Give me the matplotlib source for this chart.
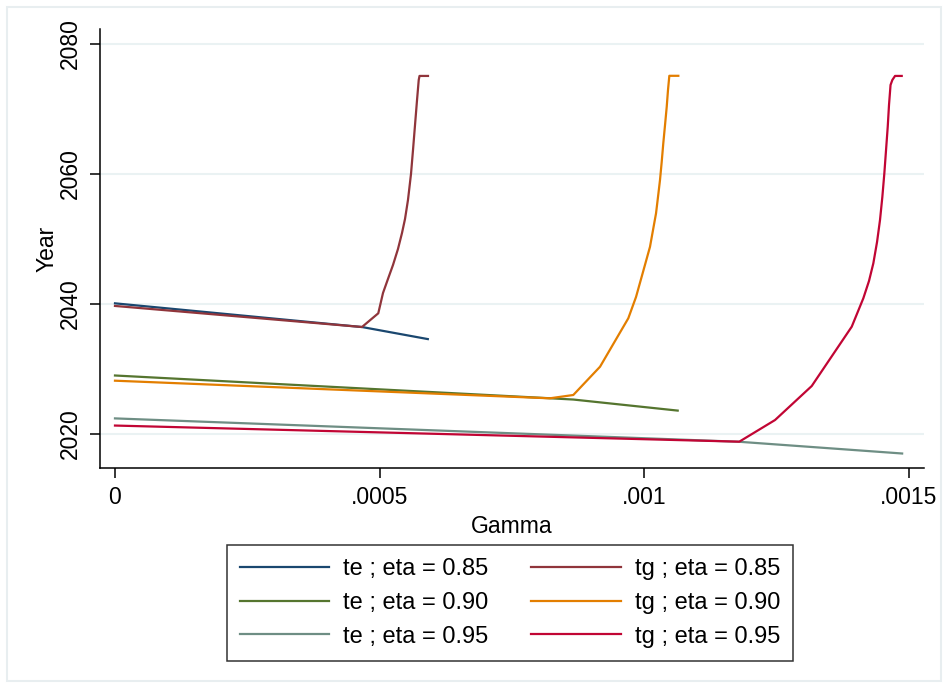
import matplotlib
matplotlib.use("Agg")
import matplotlib.pyplot as plt
from matplotlib.patches import Rectangle

plt.rcParams['font.family'] = ['Liberation Sans', 'DejaVu Sans']

# ---- data ----
te85_g = [0.0, 0.000467, 0.000591]
te85_y = [2040.1, 2036.45, 2034.6]
tg85_g = [0.0, 0.0004666, 0.0004974, 0.0005063, 0.0005157, 0.0005252, 0.0005346,
          0.0005422, 0.0005479, 0.0005535, 0.0005592, 0.0005630, 0.0005668,
          0.0005706, 0.0005738, 0.0005753, 0.0005913]
tg85_y = [2039.7, 2036.46, 2038.57, 2041.69, 2043.85, 2046.0, 2048.46,
          2050.92, 2053.08, 2056.0, 2060.0, 2063.69, 2067.54,
          2071.38, 2074.46, 2075.08, 2075.08]

te90_g = [0.0, 0.000821, 0.000866, 0.001063]
te90_y = [2029.0, 2025.5, 2025.3, 2023.6]
tg90_g = [0.0, 0.0008214, 0.0008658, 0.0009163, 0.0009697, 0.0009843, 0.0009950,
          0.0010032, 0.0010107, 0.0010164, 0.0010221, 0.0010258, 0.0010296,
          0.0010328, 0.0010358, 0.0010391, 0.0010423, 0.0010447, 0.0010472,
          0.0010642]
tg90_y = [2028.2, 2025.49, 2026.0, 2030.35, 2037.8, 2041.08, 2044.2,
          2046.6, 2048.8, 2051.38, 2053.95, 2056.46, 2059.08,
          2061.85, 2064.72, 2067.54, 2070.35, 2072.92, 2075.1,
          2075.1]

te95_g = [0.0, 0.00118, 0.001487]
te95_y = [2022.4, 2018.8, 2017.0]
tg95_g = [0.0, 0.0011794, 0.0012469, 0.0013162, 0.0013918, 0.0014137, 0.0014244,
          0.0014326, 0.0014396, 0.0014452, 0.0014496, 0.0014534, 0.0014566,
          0.0014598, 0.0014622, 0.0014651, 0.0014685, 0.0014736, 0.0014862]
tg95_y = [2021.3, 2018.82, 2022.15, 2027.38, 2036.51, 2040.88, 2043.54,
          2046.26, 2049.54, 2052.92, 2056.46, 2060.11, 2063.69,
          2067.28, 2070.62, 2073.69, 2074.46, 2075.08, 2075.08]

labels = ["te ; eta = 0.85", "tg ; eta = 0.85", "te ; eta = 0.90",
          "tg ; eta = 0.90", "te ; eta = 0.95", "tg ; eta = 0.95"]
colors = ["#1a476f", "#90353b", "#55752f", "#e37e00", "#6e8e84", "#c10534"]

xticks = [0.0, 0.0005, 0.001, 0.0015]
xticklabels = ["0", ".0005", ".001", ".0015"]
yticks = [2020, 2040, 2060, 2080]

# ---- figure ----
W, H = 947, 687
fig = plt.figure(figsize=(W / 100, H / 100), dpi=100)
fig.patch.set_facecolor("white")
fig.patches.append(Rectangle((7 / W, 1 - 681 / H), (941 - 7) / W, (681 - 7) / H,
                             transform=fig.transFigure, fill=False,
                             edgecolor="#e8eef0", linewidth=1.5, zorder=0))

ax = fig.add_axes([100 / W, 1 - 468 / H, (924 - 100) / W, (468 - 29) / H])
ax.set_xlim(-2.83e-5, 0.0015283)
ax.set_ylim(2014.77, 2082.3)

series = [(te85_g, te85_y), (tg85_g, tg85_y), (te90_g, te90_y),
          (tg90_g, tg90_y), (te95_g, te95_y), (tg95_g, tg95_y)]
handles = []
for (g, y), lab, c in zip(series, labels, colors):
    h, = ax.plot(g, y, color=c, lw=1.6, label=lab)
    handles.append(h)

for s in ["top", "right"]:
    ax.spines[s].set_visible(False)
for s in ["left", "bottom"]:
    ax.spines[s].set_linewidth(1.1)
    ax.spines[s].set_color("black")

ax.set_xticks(xticks)
ax.set_xticklabels(xticklabels)
ax.set_yticks(yticks)
ax.set_yticklabels([str(v) for v in yticks], rotation=90, va="center")
ax.tick_params(axis="both", length=7, width=1.1, labelsize=16.5, pad=6, color="black")
ax.grid(axis="y", color="#eaf2f3", lw=1.5)
ax.set_axisbelow(True)

ax.set_xlabel("Gamma", fontsize=16.5, labelpad=4)
ax.set_ylabel("Year", fontsize=16.5, labelpad=0)

order = [0, 2, 4, 1, 3, 5]
leg = fig.legend([handles[i] for i in order], [labels[i] for i in order],
                 ncol=2, loc="upper center", bbox_to_anchor=(510 / W, 1 - 545 / H),
                 fontsize=17, frameon=True, fancybox=False, shadow=False,
                 handlelength=3.8, handletextpad=0.6, columnspacing=1.8,
                 labelspacing=0.5, borderpad=0.55, borderaxespad=0)
leg.get_frame().set_edgecolor("black")
leg.get_frame().set_linewidth(1.1)

fig.savefig("out.png", dpi=100)
